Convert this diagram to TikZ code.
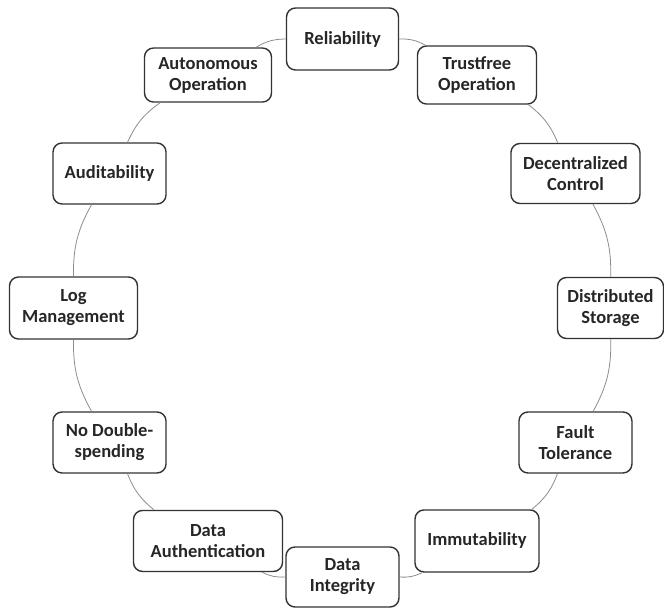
\documentclass[tikz,border=0pt]{standalone}
\usepackage{fontspec}
\setmainfont{Carlito}
\begin{document}
\begin{tikzpicture}[x=1pt,y=1pt,
  feature/.style={draw=black!80, line width=1.4pt, rounded corners=9pt,
    fill=white, align=center, inner sep=0pt, text=black!85,
    font=\bfseries\fontsize{18.5pt}{21pt}\selectfont},
  ring/.style={draw=black!45, line width=0.8pt, bend left=15}]
\useasboundingbox (-342.5pt,-301pt) rectangle (321.5pt,308pt);

% twelve properties placed every 30 degrees round one circle
\node[feature, minimum width=112pt, minimum height=62pt] (rel)   at (90:269pt)  {Reliability};
\node[feature, minimum width=119pt, minimum height=58pt] (trust) at (60:269pt)  {Trustfree\\Operation};
\node[feature, minimum width=129pt, minimum height=60pt] (dec)   at (30:269pt)  {Decentralized\\Control};
\node[feature, minimum width=106pt, minimum height=61pt] (dist)  at (0:268pt)   {Distributed\\Storage};
\node[feature, minimum width=113pt, minimum height=61pt] (fault) at (-30:269pt) {Fault\\Tolerance};
\node[feature, minimum width=124pt, minimum height=62pt] (imm)   at (-60:269pt) {Immutability};
\node[feature, minimum width=113pt, minimum height=60pt] (integ) at (-90:269pt) {Data\\Integrity};
\node[feature, minimum width=149pt, minimum height=61pt] (auth)  at (-120:269pt) {Data\\Authentication};
\node[feature, minimum width=113pt, minimum height=61pt] (nods)  at (-150:269pt) {No Double-\\spending};
\node[feature, minimum width=128pt, minimum height=62pt] (log)   at (180:269pt) {Log\\Management};
\node[feature, minimum width=113pt, minimum height=61pt] (audit) at (150:269pt) {Auditability};
\node[feature, minimum width=127pt, minimum height=54pt] (auto)  at (120:269pt) {Autonomous\\Operation};

% arcs of the ring joining neighbouring properties
\draw[ring] (rel)   to (trust);
\draw[ring] (trust) to (dec);
\draw[ring] (dec)   to (dist);
\draw[ring] (dist)  to (fault);
\draw[ring] (fault) to (imm);
\draw[ring] (imm)   to (integ);
\draw[ring] (integ) to (auth);
\draw[ring] (auth)  to (nods);
\draw[ring] (nods)  to (log);
\draw[ring] (log)   to (audit);
\draw[ring] (audit) to (auto);
\draw[ring] (auto)  to (rel);
\end{tikzpicture}
\end{document}
